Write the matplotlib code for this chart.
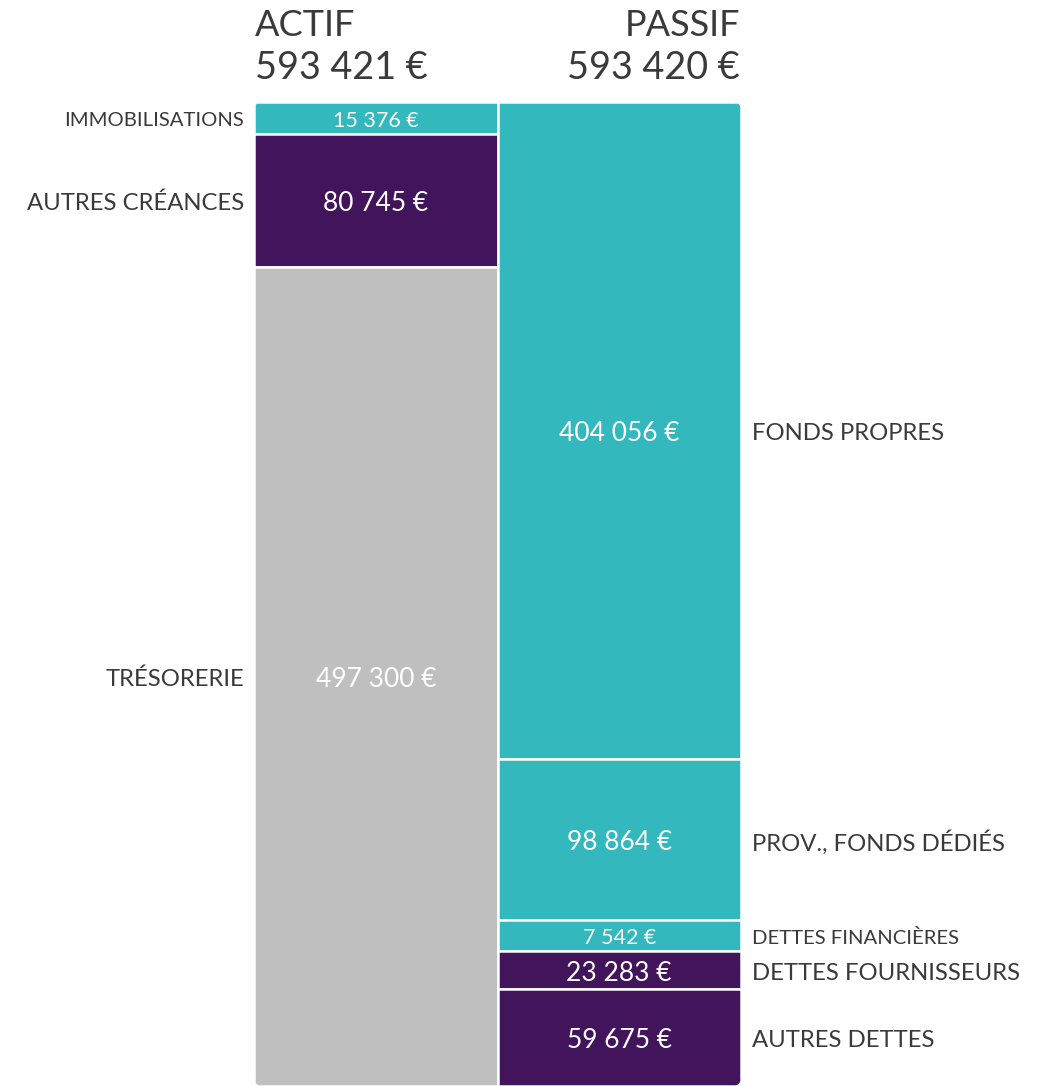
import matplotlib
matplotlib.use("Agg")
import matplotlib.pyplot as plt
from matplotlib.patches import FancyBboxPatch
from matplotlib.transforms import ScaledTranslation

plt.rcParams['font.family'] = ['Lato', 'DejaVu Sans']

actif_labels = ["IMMOBILISATIONS", "AUTRES CRÉANCES", "TRÉSORERIE"]
actif_values = [15376, 80745, 497300]
passif_labels = ["FONDS PROPRES", "PROV., FONDS DÉDIÉS", "DETTES FINANCIÈRES",
                 "DETTES FOURNISSEURS", "AUTRES DETTES"]
passif_values = [404056, 98864, 7542, 23283, 59675]
header_titles = ["ACTIF", "PASSIF"]
header_totals = ["593 421 €", "593 420 €"]

TEAL = "#33B8BE"
PURPLE = "#42145C"
GRAY = "#BFBFBF"
TXT = "#3A3A3A"
actif_colors = [TEAL, PURPLE, GRAY]
passif_colors = [TEAL, TEAL, TEAL, PURPLE, PURPLE]

W, H = 1051, 1086
fig = plt.figure(figsize=(W / 100, H / 100), dpi=100)
ax_left, ax_right, ax_top, ax_bot = 254, 741, 102, 1086
ax = fig.add_axes([ax_left / W, 1 - ax_bot / H, (ax_right - ax_left) / W, (ax_bot - ax_top) / H])
ax.set_xlim(-0.5, 1.5)
ax.set_ylim(1, 0)
ax.axis('off')

MIN_SHARE = 0.0325
# shift text slightly down (3 px)
down = ScaledTranslation(0, -3 / 100, fig.dpi_scale_trans)


def fmt(v):
    return f"{v:,}".replace(",", " ") + " €"


clip = FancyBboxPatch((0, 0), 1, 1, boxstyle="round,pad=0,rounding_size=0.018",
                      transform=ax.transAxes, mutation_aspect=(ax_right - ax_left) / (ax_bot - ax_top),
                      facecolor='none', edgecolor='none')
ax.add_patch(clip)


def draw_column(xpos, labels, values, colors, side):
    total = sum(values)
    disp = [max(v / total, MIN_SHARE) for v in values]
    s = sum(disp)
    disp = [d / s for d in disp]
    bottom = 0
    for lab, v, d, c in zip(labels, values, disp, colors):
        small = v / total < MIN_SHARE
        bars = ax.bar(xpos, d, bottom=bottom, width=1.0, color=c, edgecolor='white', linewidth=1.8)
        for b in bars:
            b.set_clip_path(clip)
        yc = bottom + d / 2
        ax.text(xpos, yc, fmt(v), ha='center', va='center', color='white',
                fontsize=15.5 if small else 19, transform=ax.transData + down)
        if side == 'left':
            ax.text(xpos - 0.5 - 0.04, yc, lab, ha='right', va='center', color=TXT,
                    fontsize=14.6 if small else 17.2, transform=ax.transData + down)
        else:
            ax.text(xpos + 0.5 + 0.045, yc, lab, ha='left', va='center', color=TXT,
                    fontsize=14.6 if small else 17.2, transform=ax.transData + down)
        bottom += d


draw_column(0, actif_labels, actif_values, actif_colors, 'left')
draw_column(1, passif_labels, passif_values, passif_colors, 'right')

fig.text(255 / W, 1 - 25 / H, header_titles[0], ha='left', va='center', color=TXT, fontsize=26)
fig.text(255 / W, 1 - 68 / H, header_totals[0], ha='left', va='center', color=TXT, fontsize=27.2)
fig.text(740 / W, 1 - 25 / H, header_titles[1], ha='right', va='center', color=TXT, fontsize=26)
fig.text(740 / W, 1 - 68 / H, header_totals[1], ha='right', va='center', color=TXT, fontsize=27.2)

fig.savefig("out.png", dpi=100, facecolor='white')
